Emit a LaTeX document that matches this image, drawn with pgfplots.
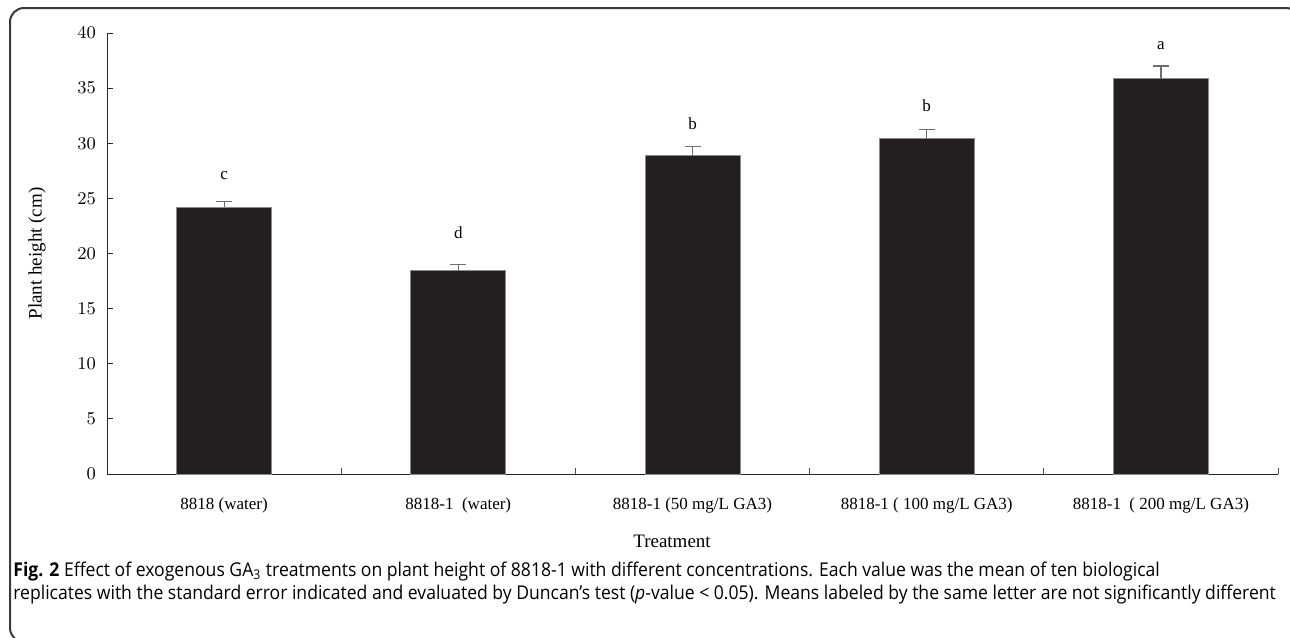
\documentclass[border=0pt]{standalone}
\usepackage{pgfplots}
\pgfplotsset{compat=1.18}
\usepackage{fontspec}
\setmainfont{Liberation Serif}
\newfontfamily\capfont[FakeStretch=0.925]{Open Sans}
\definecolor{barfill}{HTML}{231F20}
\definecolor{bargray}{HTML}{8A8A8A}
\definecolor{errgray}{HTML}{6E6E6E}
\definecolor{framegray}{HTML}{3A3A3A}
\begin{document}
\begin{tikzpicture}
\useasboundingbox (0pt,0pt) rectangle (645pt,-318.5pt);
\begin{scope}
\clip (0pt,0pt) rectangle (645pt,-318.5pt);
\draw[framegray, line width=1pt, rounded corners=7pt] (5pt,-4pt) rectangle (650pt,-321pt);
\end{scope}
\begin{axis}[
  at={(53.5pt,-237pt)}, anchor=origin,
  scale only axis, width=585.5pt, height=220.5pt,
  xmin=0.5, xmax=5.5, ymin=0, ymax=40,
  axis x line*=bottom, axis y line*=left,
  axis line style={black!85, line width=0.5pt},
  xtick={1,2,3,4,5},
  xticklabels={8818 (water), 8818-1\ \ (water), 8818-1 (50 mg/L GA3), 8818-1 ( 100 mg/L GA3), 8818-1\ \ ( 200 mg/L GA3)},
  major x tick style={draw=none},
  minor xtick={0.5,1.5,2.5,3.5,4.5,5.5},
  minor x tick style={black!70, line width=0.5pt},
  minor tick length=3pt,
  ytick={0,5,...,40},
  y tick style={black!85, line width=0.5pt},
  major tick length=3pt,
  tick align=inside,
  xticklabel style={font=\fontsize{8.5}{10}\selectfont, anchor=center, yshift=-15.5pt},
  yticklabel style={font=\fontsize{8.8}{10}\selectfont, xshift=-2pt},
  xlabel={Treatment},
  xlabel style={font=\fontsize{9.5}{11}\selectfont, at={(axis description cs:0.4825,-0.152)}, anchor=center},
  ylabel={Plant height (cm)},
  ylabel style={font=\fontsize{9.5}{11}\selectfont, at={(axis description cs:-0.0598,0.5)}, anchor=center},
  clip=false,
]
\addplot[ybar, bar width=47.5pt, bar shift=0pt, fill=barfill, draw=bargray, line width=0.4pt,
  error bars/.cd, y dir=plus, y explicit,
  error bar style={errgray, line width=0.6pt},
  error mark options={errgray, line width=0.6pt, mark size=4pt, rotate=90}]
  coordinates {
  (1,24.2) +- (0,0.5)
  (2,18.45) +- (0,0.55)
  (3,28.87) +- (0,0.82)
  (4,30.41) +- (0,0.82)
  (5,35.86) +- (0,1.15)
  };
\addplot[draw=none, mark=none, nodes near coords, point meta=explicit symbolic,
  nodes near coords align=center,
  every node near coord/.append style={font=\fontsize{8.5}{10}\selectfont, anchor=center}]
  table[meta=label] {
  x y label
  1 27.1 c
  2 21.9 d
  3 31.8 b
  4 33.4 b
  5 38.9 a
  };
\end{axis}
\node[anchor=base west, inner sep=0pt, font=\capfont\fontsize{9.5}{11}\selectfont] at (6.5pt,-288pt)
  {\textbf{Fig. 2} Effect of exogenous GA\textsubscript{3} treatments on plant height of 8818-1 with different concentrations. Each value was the mean of ten biological};
\node[anchor=base west, inner sep=0pt, font=\capfont\fontsize{9.5}{11}\selectfont] at (6.5pt,-299.5pt)
  {replicates with the standard error indicated and evaluated by Duncan’s test (\emph{p}-value < 0.05). Means labeled by the same letter are not significantly different};
\end{tikzpicture}
\end{document}
